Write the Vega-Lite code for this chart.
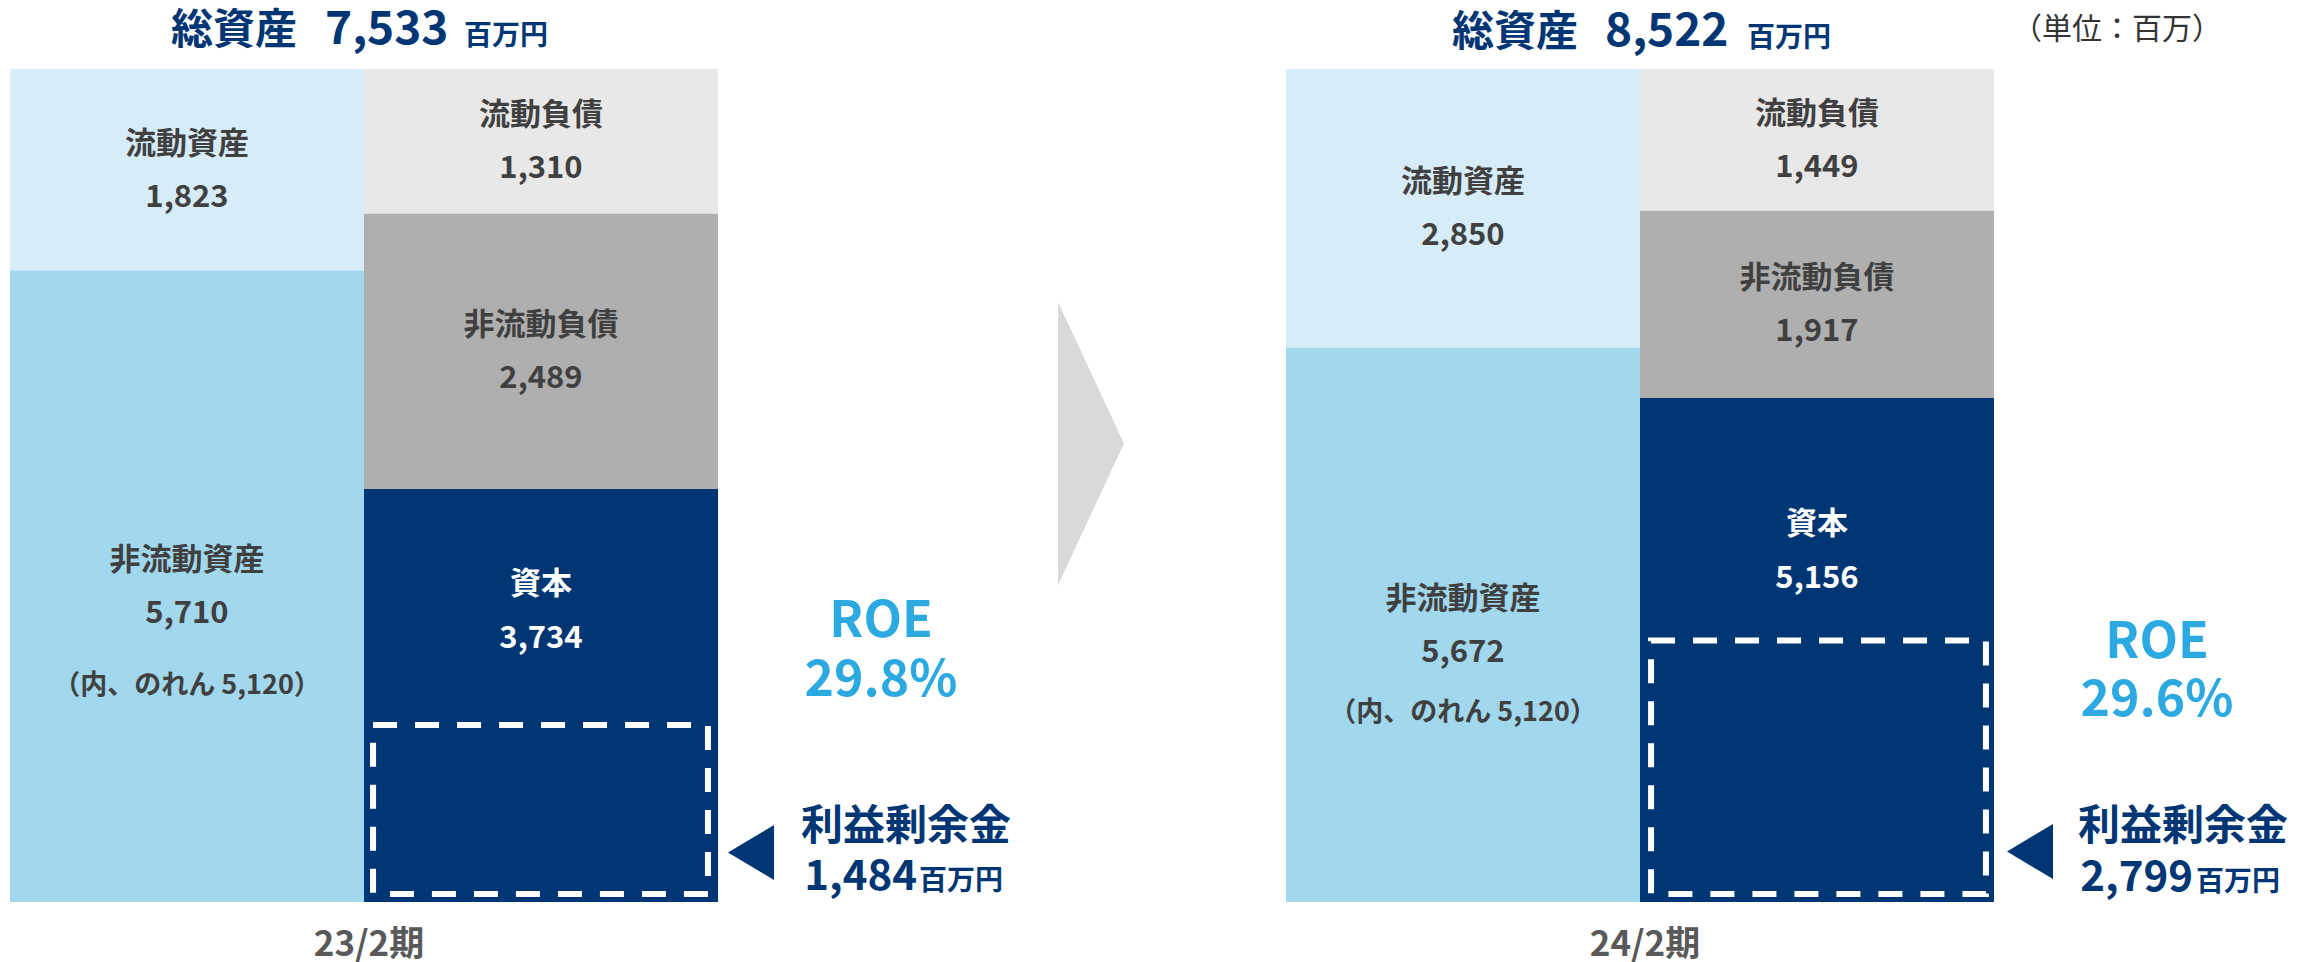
{
  "$schema": "https://vega.github.io/schema/vega-lite/v6.json",
  "width": 2302,
  "height": 833,
  "autosize": {"type": "none"},
  "padding": {"left": 10, "top": 69, "right": 0, "bottom": 60},
  "background": "white",
  "config": {
    "font": "Noto Sans CJK JP",
    "view": {"stroke": null},
    "axisX": {"domain": false, "ticks": false, "tickSize": 0, "grid": false, "labelFontSize": 35, "labelFontWeight": "bold", "labelColor": "#595959", "labelPadding": 42, "labelBaseline": "middle", "labelAngle": 0, "labelOffset": 5, "labelFont": "Noto Sans CJK JP"}
  },
  "datasets": {
    "bs": [
      {"期": "23/2期", "区分": "資産", "科目": "流動資産", "金額": 1823, "順": 2},
      {"期": "23/2期", "区分": "資産", "科目": "非流動資産", "金額": 5710, "順": 1, "注記": "（内、のれん 5,120）"},
      {"期": "23/2期", "区分": "負債・純資産", "科目": "流動負債", "金額": 1310, "順": 3},
      {"期": "23/2期", "区分": "負債・純資産", "科目": "非流動負債", "金額": 2489, "順": 2},
      {"期": "23/2期", "区分": "負債・純資産", "科目": "資本", "金額": 3734, "順": 1},
      {"期": "24/2期", "区分": "資産", "科目": "流動資産", "金額": 2850, "順": 2},
      {"期": "24/2期", "区分": "資産", "科目": "非流動資産", "金額": 5672, "順": 1, "注記": "（内、のれん 5,120）"},
      {"期": "24/2期", "区分": "負債・純資産", "科目": "流動負債", "金額": 1449, "順": 3},
      {"期": "24/2期", "区分": "負債・純資産", "科目": "非流動負債", "金額": 1917, "順": 2},
      {"期": "24/2期", "区分": "負債・純資産", "科目": "資本", "金額": 5156, "順": 1}
    ],
    "re": [
      {"期": "23/2期", "区分": "負債・純資産", "科目": "利益剰余金", "金額": 1484},
      {"期": "24/2期", "区分": "負債・純資産", "科目": "利益剰余金", "金額": 2799}
    ],
    "kpi": [
      {"期": "23/2期", "総資産": 7533, "ROE": 0.298},
      {"期": "24/2期", "総資産": 8522, "ROE": 0.296}
    ]
  },
  "resolve": {"scale": {"y": "independent"}},
  "layer": [
    {
      "layer": [
        {
          "data": {"name": "bs"},
          "transform": [
            {"filter": {"field": "期", "equal": "23/2期"}},
            {"stack": "金額", "groupby": ["期", "区分"], "sort": [{"field": "順", "order": "ascending"}], "as": ["下端", "上端"]},
            {"fold": ["下端", "上端"], "as": ["端", "位置"]},
            {"aggregate": [{"op": "mean", "field": "位置", "as": "中心"}], "groupby": ["期", "区分", "科目", "金額", "下端", "上端", "注記"]}
          ],
          "encoding": {
            "x": {"field": "期", "type": "nominal", "title": null, "scale": {"domain": ["23/2期", "24/2期"], "paddingInner": 0.44514, "paddingOuter": 0.12461, "align": 0}},
            "xOffset": {"field": "区分", "type": "nominal", "scale": {"domain": ["資産", "負債・純資産"], "paddingInner": 0, "paddingOuter": 0}}
          },
          "layer": [
            {
              "mark": {"type": "bar"},
              "encoding": {
                "y": {"field": "上端", "type": "quantitative", "scale": {"nice": false, "zero": true}, "axis": null},
                "y2": {"field": "下端"},
                "color": {"field": "科目", "type": "nominal", "legend": null, "scale": {"domain": ["流動資産", "非流動資産", "流動負債", "非流動負債", "資本"], "range": ["#D6ECF8", "#A1D8EE", "#E8E8E8", "#AFAFAF", "#003673"]}}
              }
            },
            {
              "transform": [{"filter": {"not": {"field": "科目", "equal": "資本"}}}],
              "mark": {"type": "text", "fontSize": 31, "fontWeight": "bold", "color": "#404040", "baseline": "middle", "dy": -25},
              "encoding": {"y": {"field": "中心", "type": "quantitative", "axis": null}, "text": {"field": "科目"}}
            },
            {
              "transform": [{"filter": {"not": {"field": "科目", "equal": "資本"}}}],
              "mark": {"type": "text", "fontSize": 31, "fontWeight": "bold", "color": "#404040", "baseline": "middle", "dy": 28},
              "encoding": {"y": {"field": "中心", "type": "quantitative", "axis": null}, "text": {"field": "金額", "type": "quantitative", "format": ","}}
            },
            {
              "transform": [{"filter": {"field": "科目", "equal": "資本"}}],
              "mark": {"type": "text", "fontSize": 31, "fontWeight": "bold", "color": "white", "baseline": "middle", "dy": -111},
              "encoding": {"y": {"field": "中心", "type": "quantitative", "axis": null}, "text": {"field": "科目"}}
            },
            {
              "transform": [{"filter": {"field": "科目", "equal": "資本"}}],
              "mark": {"type": "text", "fontSize": 31, "fontWeight": "bold", "color": "white", "baseline": "middle", "dy": -57},
              "encoding": {"y": {"field": "中心", "type": "quantitative", "axis": null}, "text": {"field": "金額", "type": "quantitative", "format": ","}}
            },
            {
              "transform": [{"filter": {"field": "科目", "equal": "非流動資産"}}],
              "mark": {"type": "text", "fontSize": 27, "fontWeight": "bold", "color": "#404040", "baseline": "middle", "dy": 100},
              "encoding": {"y": {"field": "中心", "type": "quantitative", "axis": null}, "text": {"field": "注記"}}
            }
          ]
        },
        {
          "data": {"name": "re"},
          "transform": [{"filter": {"field": "期", "equal": "23/2期"}}],
          "layer": [
            {
              "mark": {"type": "bar", "fill": "transparent", "stroke": "white", "strokeWidth": 6, "strokeDash": [24, 18], "width": {"band": 0.473}, "xOffset": 176.5, "yOffset": -13, "y2Offset": -8},
              "encoding": {
                "x": {"field": "期", "type": "nominal", "title": null},
                "y": {"field": "金額", "type": "quantitative", "axis": null},
                "y2": {"datum": 0}
              }
            },
            {
              "mark": {"type": "text", "fontSize": 42, "fontWeight": "bold", "color": "#003673", "baseline": "middle", "align": "center", "dx": 188, "dy": -75},
              "encoding": {"x": {"field": "期", "type": "nominal", "bandPosition": 1, "title": null}, "y": {"datum": 0, "axis": null}, "text": {"field": "科目"}}
            },
            {
              "mark": {"type": "text", "fontSize": 42, "fontWeight": "bold", "color": "#003673", "baseline": "alphabetic", "align": "right", "dx": 199, "dy": -12},
              "encoding": {"x": {"field": "期", "type": "nominal", "bandPosition": 1, "title": null}, "y": {"datum": 0, "axis": null}, "text": {"field": "金額", "type": "quantitative", "format": ","}}
            },
            {
              "mark": {"type": "text", "fontSize": 28, "fontWeight": "bold", "color": "#003673", "baseline": "alphabetic", "align": "left", "dx": 201, "dy": -12},
              "encoding": {"x": {"field": "期", "type": "nominal", "bandPosition": 1, "title": null}, "y": {"datum": 0, "axis": null}, "text": {"value": "百万円"}}
            },
            {
              "mark": {"type": "point", "shape": "M -0.836 0 L 0.836 -1 L 0.836 1 Z", "size": 3025, "filled": true, "opacity": 1, "strokeWidth": 0, "color": "#003673", "xOffset": 33, "yOffset": -49.5},
              "encoding": {"x": {"field": "期", "type": "nominal", "bandPosition": 1, "title": null}, "y": {"datum": 0, "axis": null}}
            }
          ]
        },
        {
          "data": {"name": "kpi"},
          "transform": [{"filter": {"field": "期", "equal": "23/2期"}}],
          "layer": [
            {
              "mark": {"type": "text", "fontSize": 42, "fontWeight": "bold", "color": "#003673", "baseline": "alphabetic", "align": "right", "dx": -67, "dy": -25},
              "encoding": {"x": {"field": "期", "type": "nominal", "title": null}, "y": {"field": "総資産", "type": "quantitative", "axis": null}, "text": {"value": "総資産"}}
            },
            {
              "mark": {"type": "text", "fontSize": 46, "fontWeight": "bold", "color": "#003673", "baseline": "alphabetic", "align": "left", "dx": -39, "dy": -25},
              "encoding": {"x": {"field": "期", "type": "nominal", "title": null}, "y": {"field": "総資産", "type": "quantitative", "axis": null}, "text": {"field": "総資産", "type": "quantitative", "format": ","}}
            },
            {
              "mark": {"type": "text", "fontSize": 28, "fontWeight": "bold", "color": "#003673", "baseline": "alphabetic", "align": "left", "dx": 100, "dy": -24},
              "encoding": {"x": {"field": "期", "type": "nominal", "title": null}, "y": {"field": "総資産", "type": "quantitative", "axis": null}, "text": {"value": "百万円"}}
            },
            {
              "mark": {"type": "text", "fontSize": 50, "fontWeight": "bold", "color": "#2CA9E1", "baseline": "middle", "align": "center", "dx": 163, "dy": -280.5},
              "encoding": {"x": {"field": "期", "type": "nominal", "bandPosition": 1, "title": null}, "y": {"datum": 0, "axis": null}, "text": {"value": "ROE"}}
            },
            {
              "mark": {"type": "text", "fontSize": 50, "fontWeight": "bold", "color": "#2CA9E1", "baseline": "middle", "align": "center", "dx": 163, "dy": -221.5},
              "encoding": {"x": {"field": "期", "type": "nominal", "bandPosition": 1, "title": null}, "y": {"datum": 0, "axis": null}, "text": {"field": "ROE", "type": "quantitative", "format": ".1%"}}
            },
            {
              "mark": {"type": "point", "shape": "M -0.233 -1 L 0.233 0 L -0.233 1 Z", "size": 80089, "filled": true, "opacity": 1, "strokeWidth": 0, "color": "#D9D9D9", "xOffset": 373, "yOffset": -458.5},
              "encoding": {"x": {"field": "期", "type": "nominal", "bandPosition": 1, "title": null}, "y": {"datum": 0, "axis": null}}
            }
          ]
        }
      ]
    },
    {
      "layer": [
        {
          "data": {"name": "bs"},
          "transform": [
            {"filter": {"field": "期", "equal": "24/2期"}},
            {"stack": "金額", "groupby": ["期", "区分"], "sort": [{"field": "順", "order": "ascending"}], "as": ["下端", "上端"]},
            {"fold": ["下端", "上端"], "as": ["端", "位置"]},
            {"aggregate": [{"op": "mean", "field": "位置", "as": "中心"}], "groupby": ["期", "区分", "科目", "金額", "下端", "上端", "注記"]}
          ],
          "encoding": {
            "x": {"field": "期", "type": "nominal", "title": null},
            "xOffset": {"field": "区分", "type": "nominal"}
          },
          "layer": [
            {
              "mark": {"type": "bar"},
              "encoding": {
                "y": {"field": "上端", "type": "quantitative", "scale": {"nice": false, "zero": true}, "axis": null},
                "y2": {"field": "下端"},
                "color": {"field": "科目", "type": "nominal", "legend": null}
              }
            },
            {
              "transform": [{"filter": {"not": {"field": "科目", "equal": "資本"}}}],
              "mark": {"type": "text", "fontSize": 31, "fontWeight": "bold", "color": "#404040", "baseline": "middle", "dy": -25},
              "encoding": {"y": {"field": "中心", "type": "quantitative", "axis": null}, "text": {"field": "科目"}}
            },
            {
              "transform": [{"filter": {"not": {"field": "科目", "equal": "資本"}}}],
              "mark": {"type": "text", "fontSize": 31, "fontWeight": "bold", "color": "#404040", "baseline": "middle", "dy": 28},
              "encoding": {"y": {"field": "中心", "type": "quantitative", "axis": null}, "text": {"field": "金額", "type": "quantitative", "format": ","}}
            },
            {
              "transform": [{"filter": {"field": "科目", "equal": "資本"}}],
              "mark": {"type": "text", "fontSize": 31, "fontWeight": "bold", "color": "white", "baseline": "middle", "dy": -125},
              "encoding": {"y": {"field": "中心", "type": "quantitative", "axis": null}, "text": {"field": "科目"}}
            },
            {
              "transform": [{"filter": {"field": "科目", "equal": "資本"}}],
              "mark": {"type": "text", "fontSize": 31, "fontWeight": "bold", "color": "white", "baseline": "middle", "dy": -71},
              "encoding": {"y": {"field": "中心", "type": "quantitative", "axis": null}, "text": {"field": "金額", "type": "quantitative", "format": ","}}
            },
            {
              "transform": [{"filter": {"field": "科目", "equal": "非流動資産"}}],
              "mark": {"type": "text", "fontSize": 27, "fontWeight": "bold", "color": "#404040", "baseline": "middle", "dy": 88},
              "encoding": {"y": {"field": "中心", "type": "quantitative", "axis": null}, "text": {"field": "注記"}}
            }
          ]
        },
        {
          "data": {"name": "re"},
          "transform": [{"filter": {"field": "期", "equal": "24/2期"}}],
          "layer": [
            {
              "mark": {"type": "bar", "fill": "transparent", "stroke": "white", "strokeWidth": 6, "strokeDash": [24, 18], "width": {"band": 0.473}, "xOffset": 178.5, "yOffset": 12, "y2Offset": -8},
              "encoding": {
                "x": {"field": "期", "type": "nominal", "title": null},
                "y": {"field": "金額", "type": "quantitative", "axis": null},
                "y2": {"datum": 0}
              }
            },
            {
              "mark": {"type": "text", "fontSize": 42, "fontWeight": "bold", "color": "#003673", "baseline": "middle", "align": "center", "dx": 189, "dy": -75},
              "encoding": {"x": {"field": "期", "type": "nominal", "bandPosition": 1, "title": null}, "y": {"datum": 0, "axis": null}, "text": {"field": "科目"}}
            },
            {
              "mark": {"type": "text", "fontSize": 42, "fontWeight": "bold", "color": "#003673", "baseline": "alphabetic", "align": "right", "dx": 199, "dy": -11},
              "encoding": {"x": {"field": "期", "type": "nominal", "bandPosition": 1, "title": null}, "y": {"datum": 0, "axis": null}, "text": {"field": "金額", "type": "quantitative", "format": ","}}
            },
            {
              "mark": {"type": "text", "fontSize": 28, "fontWeight": "bold", "color": "#003673", "baseline": "alphabetic", "align": "left", "dx": 202, "dy": -11},
              "encoding": {"x": {"field": "期", "type": "nominal", "bandPosition": 1, "title": null}, "y": {"datum": 0, "axis": null}, "text": {"value": "百万円"}}
            },
            {
              "mark": {"type": "point", "shape": "M -0.836 0 L 0.836 -1 L 0.836 1 Z", "size": 3025, "filled": true, "opacity": 1, "strokeWidth": 0, "color": "#003673", "xOffset": 36, "yOffset": -50.5},
              "encoding": {"x": {"field": "期", "type": "nominal", "bandPosition": 1, "title": null}, "y": {"datum": 0, "axis": null}}
            }
          ]
        },
        {
          "data": {"name": "kpi"},
          "transform": [{"filter": {"field": "期", "equal": "24/2期"}}],
          "layer": [
            {
              "mark": {"type": "text", "fontSize": 42, "fontWeight": "bold", "color": "#003673", "baseline": "alphabetic", "align": "right", "dx": -62, "dy": -23},
              "encoding": {"x": {"field": "期", "type": "nominal", "title": null}, "y": {"field": "総資産", "type": "quantitative", "axis": null}, "text": {"value": "総資産"}}
            },
            {
              "mark": {"type": "text", "fontSize": 46, "fontWeight": "bold", "color": "#003673", "baseline": "alphabetic", "align": "left", "dx": -35, "dy": -23},
              "encoding": {"x": {"field": "期", "type": "nominal", "title": null}, "y": {"field": "総資産", "type": "quantitative", "axis": null}, "text": {"field": "総資産", "type": "quantitative", "format": ","}}
            },
            {
              "mark": {"type": "text", "fontSize": 28, "fontWeight": "bold", "color": "#003673", "baseline": "alphabetic", "align": "left", "dx": 107, "dy": -22},
              "encoding": {"x": {"field": "期", "type": "nominal", "title": null}, "y": {"field": "総資産", "type": "quantitative", "axis": null}, "text": {"value": "百万円"}}
            },
            {
              "mark": {"type": "text", "fontSize": 30, "fontWeight": "normal", "color": "#333333", "baseline": "middle", "align": "center", "dx": 123, "dy": -39.5},
              "encoding": {"x": {"field": "期", "type": "nominal", "bandPosition": 1, "title": null}, "y": {"field": "総資産", "type": "quantitative", "axis": null}, "text": {"value": "（単位：百万）"}}
            },
            {
              "mark": {"type": "text", "fontSize": 50, "fontWeight": "bold", "color": "#2CA9E1", "baseline": "middle", "align": "center", "dx": 163, "dy": -259},
              "encoding": {"x": {"field": "期", "type": "nominal", "bandPosition": 1, "title": null}, "y": {"datum": 0, "axis": null}, "text": {"value": "ROE"}}
            },
            {
              "mark": {"type": "text", "fontSize": 50, "fontWeight": "bold", "color": "#2CA9E1", "baseline": "middle", "align": "center", "dx": 163, "dy": -201},
              "encoding": {"x": {"field": "期", "type": "nominal", "bandPosition": 1, "title": null}, "y": {"datum": 0, "axis": null}, "text": {"field": "ROE", "type": "quantitative", "format": ".1%"}}
            }
          ]
        }
      ]
    }
  ]
}
